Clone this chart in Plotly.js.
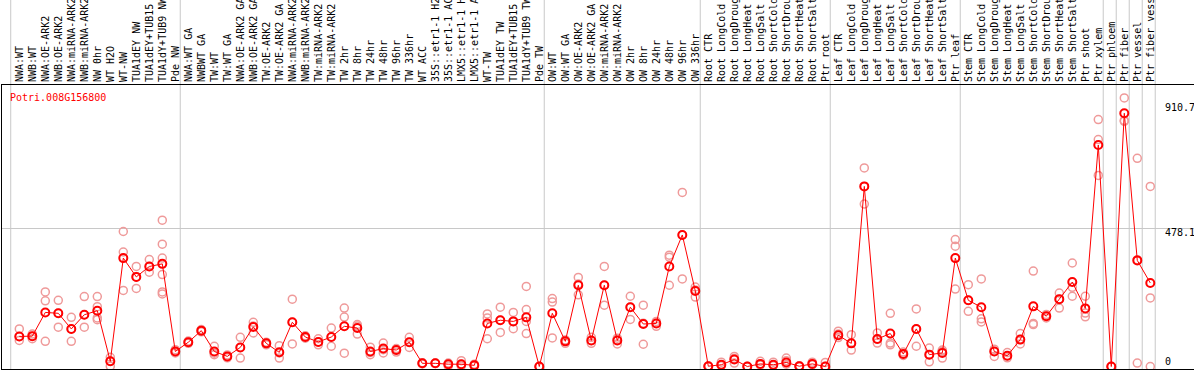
<!DOCTYPE html>
<html>
<head>
<meta charset="utf-8">
<script src="https://cdn.plot.ly/plotly-3.0.1.min.js"></script>
<style>
html,body{margin:0;padding:0;background:#fff;}
#chart{width:1194px;height:370px;}
</style>
</head>
<body>
<div id="chart"></div>
<script>
// ---- data ----
const geneId = "Potri.008G156800";

const categories = [
  "NWA:WT","NWB:WT","NWA:OE-ARK2","NWB:OE-ARK2","NWA:miRNA-ARK2","NWB:miRNA-ARK2","NW 0hr","WT H2O","WT-NW",
  "TUA1dEY NW","TUA1dEY+TUB15 NW","TUA1dY+TUB9 NW","Pde NW",
  "NWA:WT GA","NWBWT GA","TW:WT","TW:WT GA","NWA:OE-ARK2 GA","NWB:OE-ARK2 GA","TW:OE-ARK2","TW:OE-ARK2 GA",
  "NWA:miRNA-ARK2 GA","NWB:miRNA-ARK2 GA","TW:miRNA-ARK2","TW:miRNA-ARK2 GA",
  "TW 2hr","TW 8hr","TW 24hr","TW 48hr","TW 96hr","TW 336hr","WT ACC",
  "35S::etr1-1 H2O","35S::etr1-1 ACC","LMX5::etr1-1 H2O","LMX5::etr1-1 ACC","WT-TW",
  "TUA1dEY TW","TUA1dEY+TUB15 TW","TUA1dY+TUB9 TW","Pde TW",
  "OW:WT","OW:WT GA","OW:OE-ARK2","OW:OE-ARK2 GA","OW:miRNA-ARK2","OW:miRNA-ARK2 GA",
  "OW 2hr","OW 8hr","OW 24hr","OW 48hr","OW 96hr","OW 336hr",
  "Root CTR","Root LongCold","Root LongDrought","Root LongHeat","Root LongSalt","Root ShortCold","Root ShortDrought","Root ShortHeat","Root ShortSalt","Ptr root",
  "Leaf CTR","Leaf LongCold","Leaf LongDrought","Leaf LongHeat","Leaf LongSalt","Leaf ShortCold","Leaf ShortDrought","Leaf ShortHeat","Leaf ShortSalt","Ptr leaf",
  "Stem CTR","Stem LongCold","Stem LongDrought","Stem LongHeat","Stem LongSalt","Stem ShortCold","Stem ShortDrought","Stem ShortHeat","Stem ShortSalt","Ptr shoot",
  "Ptr xylem","Ptr phloem","Ptr fiber","Ptr vessel","Ptr fiber vessel"
];

const meanValues = [
  104,105,187,184,130,179,193,18,375,310,346,355,52,
  84,124,52,35,66,137,80,49,153,102,85,102,139,133,52,62,57,84,11,11,8,8,4,149,160,156,170,0,
  184,87,281,90,281,90,205,147,149,346,455,261,
  1,6,24,0,9,6,14,1,9,0,
  108,80,623,95,114,43,130,41,47,375,
  229,205,52,37,93,208,174,233,292,201,
  766,0,876,367,289
];

const replicateValues = [
  [130,90,104],[112,96,105],[258,227,87],[229,136,184],[170,87,130],[242,136,179],[242,207,168,162],[32,1,18],[467,396,263],
  [346,270,310],[370,326,346],[506,423,375,318,258,251],[58,47,52],
  [84,80,88],[124,120,128],[70,41,46],[35,40,30],[101,29,66],[153,116,140],[84,75,80],[72,29,47],
  [233,78,153],[102,98,106],[96,75,85],[133,70,102],
  [202,171,46],[145,112,140],[67,41,48],[81,47,58],[62,50,57],[101,66,84],[11,9,13],
  [11,10,12],[8,2,12],[20,2,8],[8,2,4],[182,168,96],
  [205,118,160],[187,131,156],[277,197,156,114],[0,0,0],
  [235,223,99],[90,80,92],[308,248,285],[101,80,90],[346,212,281],[98,78,92],
  [243,163,205],[212,77,150],[156,139,150],[385,378,281],[602,303,455],[275,240,265],
  [1,0,2],[15,3,6],[35,28,12],[0,0,0],[18,5,9],[15,3,6],[29,20,8],[3,0,1],[15,6,9],[14,0,0],
  [122,112,100],[110,57,80],[687,562,623],[116,81,95],[184,81,75],[50,38,43],[199,70,130],[64,16,41],[57,29,52],[439,416,268],
  [283,191,229],[303,165,154],[60,35,52],[48,30,37],[114,78,93],[330,145,149],[174,168,180],[254,202,233],[358,274,243],[243,185,172],
  [854,785,661],[0,0,0],[929,851,848],[720,12,369],[623,237,0]
];

// group separators: index of last category in each group
const groupEnds = [12,40,52,62,72,83,84,85,86,87];
const yTickValues = [0, 478.1, 910.7];
const yTickLabels = ["0", "478.1", "910.7"];

// ---- build ----
const xIdx = categories.map((c, i) => i);
const repX = [], repY = [];
replicateValues.forEach((arr, i) => arr.forEach(v => { repX.push(i); repY.push(v); }));

const font = "DejaVu Sans Mono, monospace";

const traces = [
  {
    x: repX, y: repY, type: "scatter", mode: "markers", hoverinfo: "skip",
    marker: {symbol: "circle-open", size: 8, color: "#ef9a9a", line: {width: 1.5, color: "#ef9a9a"}}
  },
  {
    x: xIdx, y: meanValues, type: "scatter", mode: "lines+markers",
    line: {color: "#ff0000", width: 1},
    marker: {symbol: "circle-open", size: 8, color: "#ff0000", line: {width: 2, color: "#ff0000"}}
  }
];

const shapes = [-1.04].concat(groupEnds).map((e, k) => ({
  type: "line", xref: "x", yref: "paper",
  x0: k === 0 ? e + 0.38 : e + 0.38, x1: k === 0 ? e + 0.38 : e + 0.38,
  y0: 0, y1: 1.31, layer: "below",
  line: {color: "#c8c8c8", width: 1}
}));

const annotations = [
  {xref: "paper", yref: "paper", x: 0, y: 0.9577, xanchor: "left", yanchor: "middle", xshift: 6,
   text: geneId, showarrow: false, font: {family: font, size: 10, color: "#ff0000"}}
].concat(yTickValues.map((v, k) => ({
  xref: "paper", yref: "y", x: 0.9743, y: v, xanchor: "left", yanchor: "middle",
  yshift: k === 0 ? 4.8 : -4.3, text: yTickLabels[k], showarrow: false,
  bgcolor: "rgba(255,255,255,0)", font: {family: font, size: 10, color: "#000"}
})));

const layout = {
  width: 1194, height: 370,
  margin: {l: 2, r: 0, t: 85, b: 1, pad: 0},
  paper_bgcolor: "#fff", plot_bgcolor: "#fff",
  showlegend: false,
  xaxis: {
    range: [-1.331, 90.362], side: "top",
    tickmode: "array", tickvals: xIdx, ticktext: categories, tickangle: -90,
    tickfont: {family: font, size: 10, color: "#000"},
    ticks: "", showgrid: false, zeroline: false,
    showline: true, linecolor: "#000", linewidth: 1, mirror: true
  },
  yaxis: {
    range: [-8.65, 973.7],
    tickmode: "array", tickvals: [yTickValues[1]], showticklabels: false,
    ticks: "", showgrid: true, gridcolor: "#c8c8c8", gridwidth: 1, zeroline: false,
    showline: true, linecolor: "#000", linewidth: 1
  },
  shapes: shapes,
  annotations: annotations
};

Plotly.newPlot("chart", traces, layout, {displayModeBar: false, staticPlot: true});
</script>
</body>
</html>
